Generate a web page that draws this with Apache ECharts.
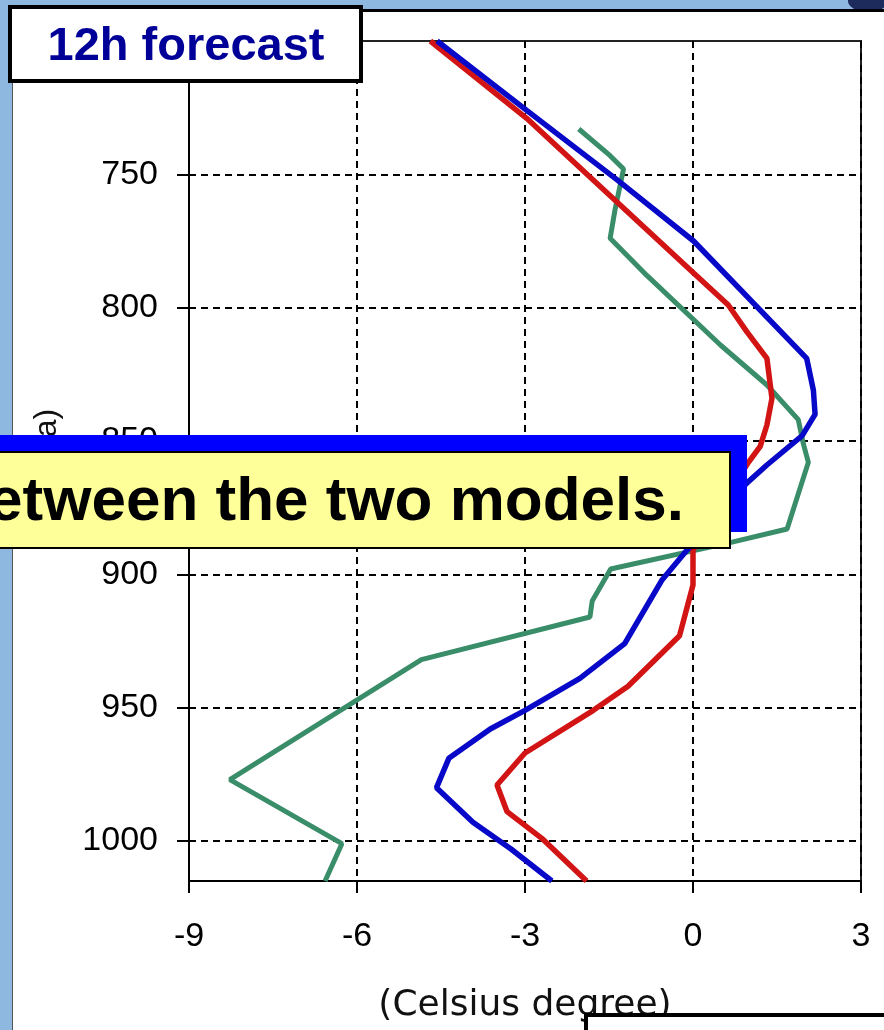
<!DOCTYPE html>
<html>
<head>
<meta charset="utf-8">
<script src="https://cdn.jsdelivr.net/npm/echarts@6/dist/echarts.min.js"></script>
<style>
  html, body { margin: 0; padding: 0; }
  body { width: 884px; height: 1030px; overflow: hidden; background: #8fb8e0; position: relative; }
  #panel { position: absolute; left: 12px; top: 9px; width: 872px; height: 1021px; background: #fff;
           border-top: 3px solid #000; border-left: 1px solid #555; box-sizing: border-box; }
  #corner { position: absolute; left: 848px; top: -10px; width: 40px; height: 22px; border-radius: 50%;
            background: #1c2b5c; }
  #chart { position: absolute; left: 0; top: 0; width: 884px; height: 1030px; }
</style>
</head>
<body>
<div id="corner"></div>
<div id="panel"></div>
<div id="chart"></div>
<script>
// Tick labels
var tempTicks = [-9, -6, -3, 0, 3];
var pressureTicks = [750, 800, 850, 900, 950, 1000];

// Series 1 (blue): temperature (deg C) and pressure (hPa)
var blueTemp = [-4.57, -2.97, -1.36, 0.01, 2.03, 2.15, 2.18, 1.95, 1.32, 0.95, -0.11, -0.55, -1.22, -2.02, -3.0, -3.62, -4.36, -4.58, -3.93, -3.25, -2.52];
var bluePres = [700, 726, 752, 775, 819, 831, 840, 848, 859, 866, 891, 902, 926, 939, 951, 958, 969, 980, 993, 1003, 1015];

// Series 2 (red)
var redTemp = [-4.69, -2.97, -1.84, 0.01, 0.63, 0.96, 1.32, 1.41, 1.32, 1.20, 0.99, 0.0, 0.0, -0.24, -1.16, -1.78, -3.0, -3.5, -3.32, -2.70, -1.90];
var redPres = [700, 729, 751, 787, 799, 809, 819, 834, 844, 852, 858, 891, 904, 923, 942, 951, 967, 979, 989, 999, 1015];

// Series 3 (green)
var greenTemp = [-2.04, -1.48, -1.24, -1.27, -1.39, -1.48, -0.82, 0.49, 1.32, 1.88, 1.97, 2.06, 1.68, 0.68, -1.47, -1.80, -1.84, -4.85, -8.27, -6.27, -6.57];
var greenPres = [733, 743, 748, 751, 763, 774, 788, 814, 829, 842, 851, 858, 883, 888, 898, 910, 916, 932, 977, 1001, 1015];

// Texts
var xAxisName = '(Celsius degree)';
var yAxisName = '(hPa)';
var forecastLabel = '12h forecast';
var captionText = 'etween the two models.';

function pairs(t, p) {
  var out = [];
  for (var i = 0; i < t.length; i++) out.push([t[i], p[i]]);
  return out;
}

var chart = echarts.init(document.getElementById('chart'), null, { renderer: 'canvas' });

var labelFont = 'Liberation Sans, Arial, sans-serif';
function plain(v) { return String(v); }

chart.setOption({
  animation: false,
  backgroundColor: 'transparent',
  grid: { left: 189, right: 23, top: 41, bottom: 149, show: true, borderColor: '#222', borderWidth: 2, backgroundColor: 'transparent' },
  xAxis: {
    type: 'value', min: -9, max: 3, interval: 3,
    name: xAxisName, nameLocation: 'middle', nameGap: 107,
    nameTextStyle: { fontSize: 36, fontFamily: 'DejaVu Sans, sans-serif', color: '#111' },
    axisLine: { show: true, onZero: false, lineStyle: { color: '#000', width: 2 } },
    axisTick: { show: true, inside: false, length: 12, lineStyle: { color: '#000', width: 2 }, customValues: tempTicks },
    axisLabel: { margin: 39, fontSize: 34, fontFamily: labelFont, color: '#000', formatter: plain, customValues: tempTicks },
    splitLine: { show: true, lineStyle: { color: '#000', width: 2, type: [7, 5] } }
  },
  yAxis: {
    type: 'value', inverse: true, min: 700, max: 1015, interval: 50,
    axisLine: { show: true, onZero: false, lineStyle: { color: '#000', width: 2 } },
    axisTick: { show: true, inside: false, length: 12, lineStyle: { color: '#000', width: 2 }, customValues: pressureTicks },
    axisLabel: { margin: 31, fontSize: 34, fontFamily: labelFont, color: '#000', formatter: plain, customValues: pressureTicks },
    splitLine: { show: true, lineStyle: { color: '#000', width: 2, type: [7, 5] } }
  },
  series: [
    { name: 'green', type: 'line', data: pairs(greenTemp, greenPres), symbol: 'none', clip: true,
      lineStyle: { color: '#3a8d69', width: 5 }, z: 3 },
    { name: 'red', type: 'line', data: pairs(redTemp, redPres), symbol: 'none', clip: true,
      lineStyle: { color: '#d21414', width: 5.5 }, z: 4 },
    { name: 'blue', type: 'line', data: pairs(blueTemp, bluePres), symbol: 'none', clip: true,
      lineStyle: { color: '#0808c8', width: 5.5 }, z: 5 }
  ],
  graphic: [
    { type: 'text', z: 20, x: 47, y: 448, rotation: Math.PI / 2,
      style: { text: yAxisName, font: '32px Liberation Sans, Arial, sans-serif', fill: '#111', align: 'center', verticalAlign: 'middle' } },
    { type: 'rect', z: 30, shape: { x: 10, y: 7, width: 351, height: 74 },
      style: { fill: '#ffffff', stroke: '#000', lineWidth: 4 } },
    { type: 'text', z: 31, x: 186, y: 47,
      style: { text: forecastLabel, font: 'bold 47px Liberation Sans, Arial, sans-serif', fill: '#000099', align: 'center', verticalAlign: 'middle' } },
    { type: 'rect', z: 30, shape: { x: 0, y: 435, width: 747, height: 97 },
      style: { fill: '#0000ff' } },
    { type: 'rect', z: 31, shape: { x: -5, y: 452, width: 735, height: 96 },
      style: { fill: '#ffff99', stroke: '#000', lineWidth: 2 } },
    { type: 'text', z: 32, x: 684, y: 503,
      style: { text: captionText, font: 'bold 62px Liberation Sans, Arial, sans-serif', fill: '#000', align: 'right', verticalAlign: 'middle' } },
    { type: 'rect', z: 30, shape: { x: 586, y: 1015, width: 330, height: 40 },
      style: { fill: '#ffffff', stroke: '#000', lineWidth: 4 } }
  ]
});
</script>
</body>
</html>
